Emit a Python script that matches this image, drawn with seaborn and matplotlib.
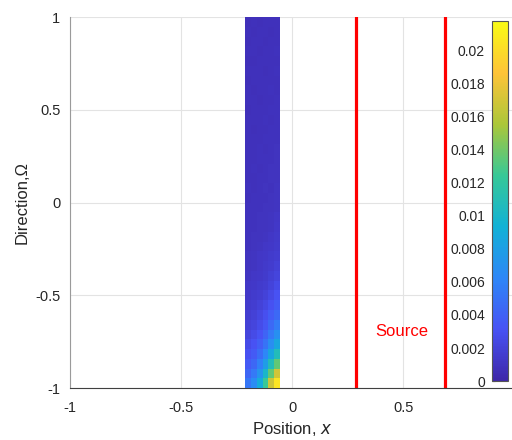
import matplotlib
matplotlib.use("Agg")
import matplotlib.pyplot as plt
from matplotlib.colors import LinearSegmentedColormap
import seaborn as sns
import pandas as pd

# flux grid, values in 1e-3, rows from Omega = 1 (top) down to -1, 6 columns in x
x_edges = [-0.21, -0.055]
omega_top_rows = [
    [0.7, 0.8, 0.7, 0.8, 0.8, 0.8],
    [0.8, 0.7, 0.8, 0.8, 0.7, 0.8],
    [0.7, 0.8, 0.8, 0.7, 0.8, 0.8],
    [0.8, 0.8, 0.7, 0.8, 0.8, 0.9],
    [0.7, 0.7, 0.8, 0.8, 0.8, 0.8],
    [0.8, 0.8, 0.8, 0.7, 0.8, 0.9],
    [0.7, 0.8, 0.8, 0.8, 0.8, 0.8],
    [0.8, 0.7, 0.8, 0.8, 0.9, 0.8],
    [0.8, 0.8, 0.7, 0.8, 0.8, 0.9],
    [0.7, 0.8, 0.8, 0.8, 0.9, 0.9],
    [0.8, 0.8, 0.8, 0.9, 0.8, 0.9],
    [0.8, 0.7, 0.8, 0.8, 0.9, 0.9],
    [0.8, 0.8, 0.8, 0.9, 0.9, 0.9],
    [0.8, 0.8, 0.9, 0.8, 0.9, 1.0],
]
omega_mid_rows = [
    [0.8, 0.8, 0.9, 0.9, 0.9, 1.0],
    [0.8, 0.9, 0.8, 0.9, 1.0, 1.0],
    [0.8, 0.8, 0.9, 0.9, 1.0, 1.0],
    [0.9, 0.8, 0.9, 1.0, 0.9, 1.1],
    [0.8, 0.9, 0.9, 0.9, 1.0, 1.1],
    [0.9, 0.9, 0.9, 1.0, 1.0, 1.1],
    [0.9, 0.9, 1.0, 1.0, 1.1, 1.2],
    [0.9, 0.9, 1.0, 1.0, 1.1, 1.3],
    [0.9, 1.0, 1.0, 1.1, 1.2, 1.4],
    [0.9, 1.0, 1.1, 1.2, 1.3, 1.5],
]
omega_bottom_rows = [
    [1.0, 1.1, 1.2, 1.3, 1.5, 1.7],
    [1.0, 1.1, 1.2, 1.4, 1.6, 1.9],
    [1.1, 1.2, 1.3, 1.5, 1.8, 2.2],
    [1.2, 1.3, 1.5, 1.7, 2.1, 2.6],
    [1.3, 1.5, 1.7, 2.0, 2.5, 3.1],
    [1.5, 1.7, 2.0, 2.4, 3.0, 3.7],
    [1.7, 1.9, 2.3, 2.9, 3.7, 4.5],
    [1.9, 2.2, 2.7, 3.4, 4.5, 5.6],
    [2.2, 2.6, 3.2, 4.2, 5.5, 6.9],
    [2.6, 3.1, 3.9, 5.1, 6.8, 8.6],
    [3.0, 3.6, 4.7, 6.3, 8.5, 10.8],
    [3.6, 4.4, 5.8, 7.9, 10.8, 13.6],
    [4.3, 5.4, 7.2, 10.0, 13.6, 17.0],
    [5.2, 6.6, 9.0, 12.5, 16.8, 20.5],
]
source_lines = [0.29, 0.69]
cbar_ticks = [0, 0.002, 0.004, 0.006, 0.008, 0.01, 0.012, 0.014, 0.016, 0.018, 0.02]
cbar_labels = ['0', '0.002', '0.004', '0.006', '0.008', '0.01', '0.012',
               '0.014', '0.016', '0.018', '0.02']
cbar_max = 0.0218

parula_anchors = [
    (0.2422, 0.1504, 0.6603), (0.2810, 0.3228, 0.9579), (0.1786, 0.5289, 0.9682),
    (0.0689, 0.6948, 0.8394), (0.2161, 0.7843, 0.5923), (0.6720, 0.7793, 0.2227),
    (0.9970, 0.7659, 0.2199), (0.9769, 0.9839, 0.0805),
]
parula = LinearSegmentedColormap.from_list("parula", parula_anchors)

grid = pd.DataFrame(omega_top_rows + omega_mid_rows + omega_bottom_rows) * 1e-3

sns.set_style("white")
plt.rcParams['font.family'] = ['Liberation Sans', 'DejaVu Sans']
plt.rcParams['mathtext.fontset'] = 'dejavusans'

fig = plt.figure(figsize=(5.12, 4.4), dpi=100)
ax = fig.add_axes([0.137, 0.118, 0.867, 0.843])
ax.set_xlim(-1, 1)
ax.set_ylim(-1, 1)
ax.set_xticks([-1, -0.5, 0, 0.5])
ax.set_xticklabels(['-1', '-0.5', '0', '0.5'])
ax.set_yticks([-1, -0.5, 0, 0.5, 1])
ax.set_yticklabels(['-1', '-0.5', '0', '0.5', '1'])
ax.grid(True, color='#e3e3e3', lw=0.8)
ax.set_axisbelow(True)
for s in ['top', 'right']:
    ax.spines[s].set_visible(False)
ax.spines['left'].set_color('#9a9a9a')
ax.spines['bottom'].set_color('#404040')
ax.tick_params(direction='in', length=3, labelsize=10.5, colors='#262626')
ax.tick_params(axis='x', pad=9)
ax.tick_params(axis='y', pad=7)
ax.set_xlabel('Position, $x$', fontsize=12, color='#262626', labelpad=4)
ax.set_ylabel('Direction,Ω', fontsize=12, color='#262626')

# heatmap placed on the data region of the main axes
hm_ax = ax.inset_axes([x_edges[0], -1, x_edges[1] - x_edges[0], 2], transform=ax.transData)
cax = fig.add_axes([0.961, 0.134, 0.031, 0.818])
sns.heatmap(grid, ax=hm_ax, cmap=parula, vmin=0, vmax=cbar_max, cbar_ax=cax,
            xticklabels=False, yticklabels=False)
hm_ax.set_axis_off()

cb = hm_ax.collections[0].colorbar
cb.set_ticks(cbar_ticks)
cb.set_ticklabels(cbar_labels)
cb.ax.yaxis.set_ticks_position('left')
cb.ax.yaxis.set_label_position('left')
cb.ax.tick_params(labelsize=10, colors='#262626', length=2, direction='in', pad=5)
cb.outline.set_visible(True)
cb.outline.set_edgecolor('#555555')
cb.outline.set_linewidth(0.8)

for xs in source_lines:
    ax.axvline(xs, color='red', lw=2.3)
ax.text(0.495, -0.695, 'Source', color='red', fontsize=12, ha='center', va='center')

fig.savefig('out.png', dpi=100)
